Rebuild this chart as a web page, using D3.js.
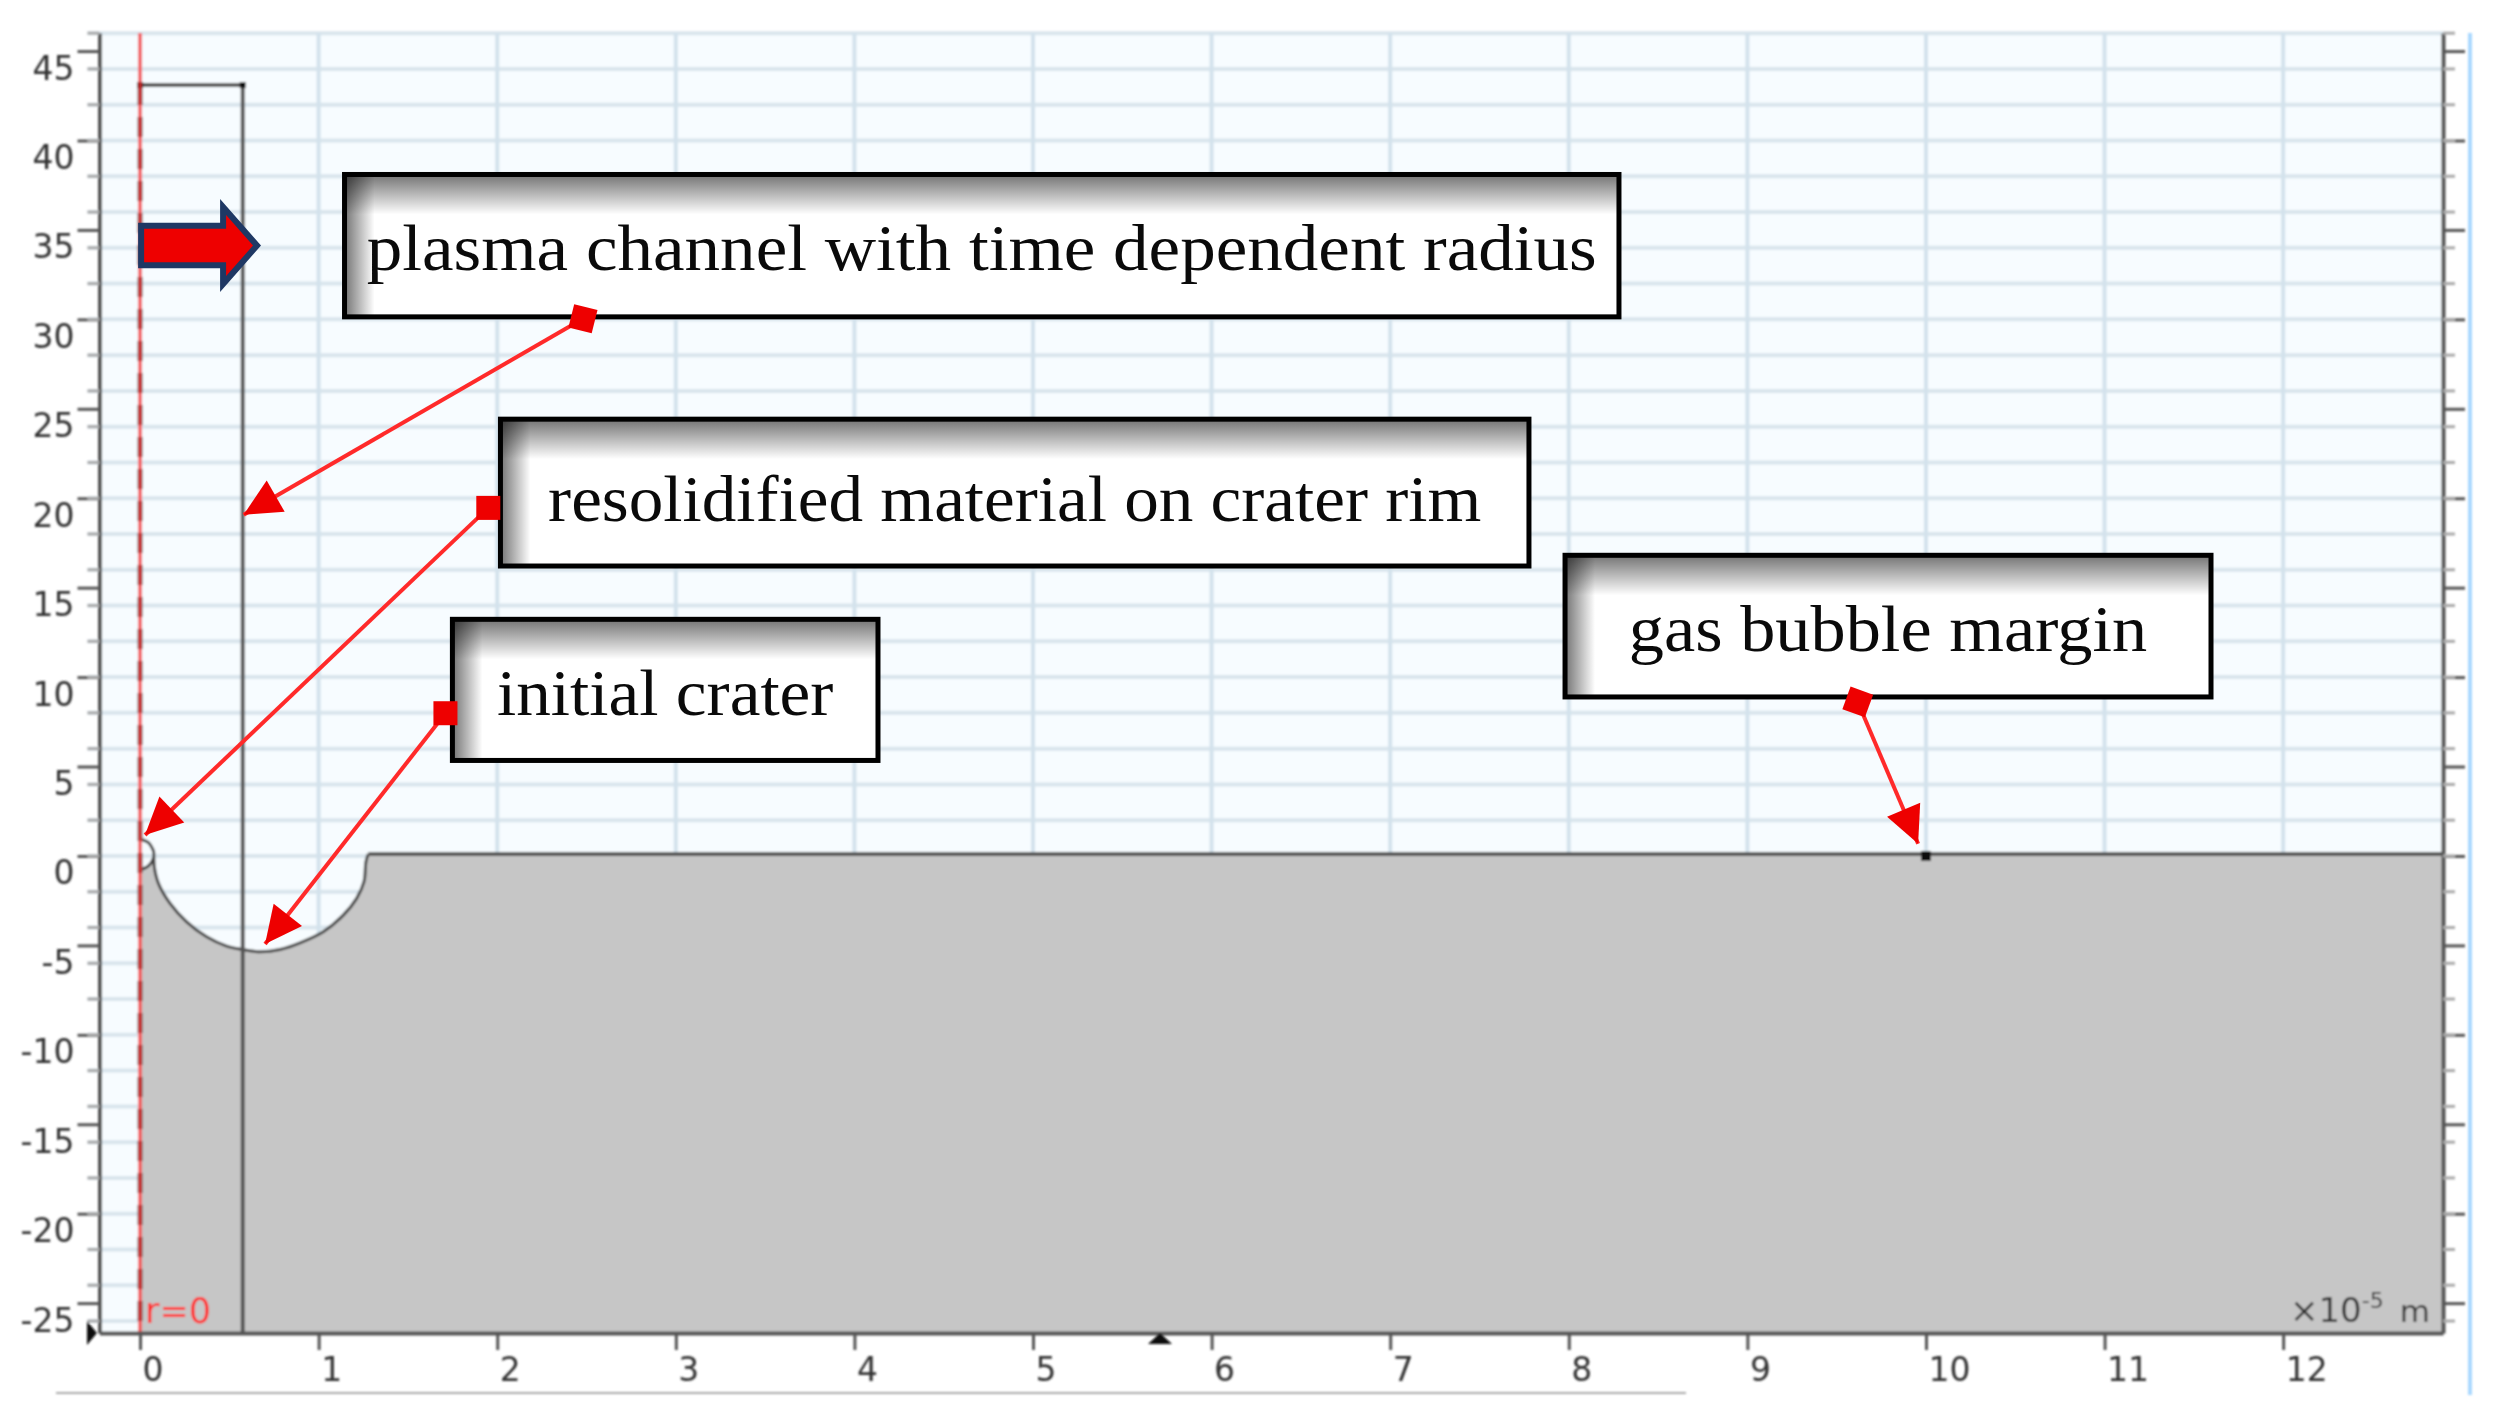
<!DOCTYPE html>
<meta charset="utf-8">
<style>
body { margin: 0; background: #fff; }
svg { display: block; }
.tick text { font-family: "DejaVu Sans"; font-size: 33px; fill: #333; }
.note { font-family: "Liberation Serif"; font-size: 66px; fill: #0a0a0a; text-anchor: middle; }
</style>
<body>
<script src="https://cdn.jsdelivr.net/npm/d3@7"></script>
<script>

var w = 2501,
    h = 1416;

// x in 1e-5 m, y in 1e-6 m
var xTicks = [0, 1, 2, 3, 4, 5, 6, 7, 8, 9, 10, 11, 12],
    yLabelled = [45, 40, 35, 30, 25, 20, 15, 10, 5, 0, -5, -10, -15, -20, -25],
    yGrid = d3.range(-26, 47, 2);

// crater profile
var crater = [[0, -0.79], [0.047, -0.56], [0.075, -0.13], [0.077, 0.24], [0.08, -0.6], [0.103, -1.53], [0.168, -2.65],
  [0.261, -3.68], [0.373, -4.52], [0.485, -5.04], [0.573, -5.23], [0.672, -5.36], [0.784, -5.23],
  [0.896, -4.86], [1.026, -4.24], [1.138, -3.31], [1.213, -2.37], [1.254, -1.44], [1.265, -0.32],
  [1.278, 0.11]];
var surface = [[1.278, 0.11], [12.895, 0.11]];
var rim = [[0, 0.93], [0.047, 0.74], [0.077, 0.24]];
var channelRadius = 0.575,
    channelTop = 43.1;
var bubbleMargin = [10, 0];

var noteTexts = ["plasma channel with time dependent radius", "resolidified material on crater rim", "initial crater", "gas bubble margin"],
    noteX0 = [1.145, 2.018, 1.749, 7.979],
    noteX1 = [8.281, 7.777, 4.132, 11.596],
    noteTop = [38.10, 24.42, 13.23, 16.81],
    noteBottom = [30.14, 16.21, 5.34, 8.89],
    noteBaseline = [32.76, 18.73, 7.88, 11.44],
    noteWidth = [6.887, 5.225, 1.884, 2.902];

var arrowFrom = [[2.48, 30.03], [1.95, 19.46], [1.71, 7.98], [9.618, 8.61]],
    arrowTo = [[0.58, 19.08], [0.028, 1.17], [0.70, -4.92], [9.956, 0.68]],
    arrowTilt = [14, 0, 0, 20];

var pushArrow = [[0.006, 35.23], [0.465, 35.23], [0.465, 36.28], [0.655, 34.13], [0.465, 31.98], [0.465, 33.03], [0.006, 33.03]];

var x = d3.scaleLinear().domain([-0.227, 12.895]).range([99.5, 2443]),
    y = d3.scaleLinear().domain([-26.67, 46.01]).range([1333, 33]);

var svg = d3.select("body").append("svg")
    .attr("width", w)
    .attr("height", h);

var defs = svg.append("defs");
defs.append("filter").attr("id", "soft").append("feGaussianBlur").attr("stdDeviation", 0.8);
var gt = defs.append("linearGradient").attr("id", "shadeTop").attr("x1", 0).attr("y1", 0).attr("x2", 0).attr("y2", 1);
gt.append("stop").attr("offset", 0).attr("stop-color", "#000").attr("stop-opacity", 0.55);
gt.append("stop").attr("offset", 1).attr("stop-color", "#000").attr("stop-opacity", 0);
var gl = defs.append("linearGradient").attr("id", "shadeLeft").attr("x1", 0).attr("y1", 0).attr("x2", 1).attr("y2", 0);
gl.append("stop").attr("offset", 0).attr("stop-color", "#000").attr("stop-opacity", 0.55);
gl.append("stop").attr("offset", 1).attr("stop-color", "#000").attr("stop-opacity", 0);

var plot = svg.append("g").attr("filter", "url(#soft)");

// background and grid
plot.append("rect")
    .attr("x", x.range()[0]).attr("y", y.range()[1])
    .attr("width", x.range()[1] - x.range()[0]).attr("height", y.range()[0] - y.range()[1])
    .attr("fill", "#f7fcff");

plot.selectAll(".gy").data(yGrid).enter().append("line")
    .attr("x1", x.range()[0] - 12).attr("x2", x.range()[1])
    .attr("y1", y).attr("y2", y)
    .attr("stroke", "#d9e5ed").attr("stroke-width", 4);

plot.selectAll(".gx").data(xTicks).enter().append("line")
    .attr("x1", x).attr("x2", x)
    .attr("y1", y.range()[0]).attr("y2", y.range()[1])
    .attr("stroke", "#d3e2ec").attr("stroke-width", 4);

// solid, everything below the crater profile
var line = d3.line().x(function(d) { return x(d[0]); }).y(function(d) { return y(d[1]); });
var curved = d3.line().x(function(d) { return x(d[0]); }).y(function(d) { return y(d[1]); }).curve(d3.curveCatmullRom.alpha(0.5));
var area = d3.area().x(function(d) { return x(d[0]); }).y0(y.range()[0]).y1(function(d) { return y(d[1]); });

plot.append("path").datum(crater.concat(surface)).attr("d", area).attr("fill", "#c6c6c6");
plot.append("path").datum(crater).attr("d", curved).attr("fill", "none").attr("stroke", "#444").attr("stroke-width", 3);
plot.append("path").datum(rim).attr("d", curved).attr("fill", "none").attr("stroke", "#444").attr("stroke-width", 3);
plot.append("path").datum(surface).attr("d", line).attr("fill", "none").attr("stroke", "#555").attr("stroke-width", 4);

// plasma channel
plot.append("path")
    .datum([[0, channelTop], [channelRadius, channelTop], [channelRadius, y.domain()[0]]])
    .attr("d", line).attr("fill", "none").attr("stroke", "#555").attr("stroke-width", 4);
plot.append("line")
    .attr("x1", x(0)).attr("x2", x(0)).attr("y1", y(channelTop)).attr("y2", y.range()[0])
    .attr("stroke", "#444").attr("stroke-width", 5).attr("stroke-dasharray", "20 12");
plot.selectAll(".corner").data([[0, channelTop], [channelRadius, channelTop], bubbleMargin]).enter().append("rect")
    .attr("x", function(d, i) { return x(d[0]) - (i == 2 ? 5 : 3); })
    .attr("y", function(d, i) { return y(d[1]) - (i == 2 ? 5 : 3); })
    .attr("width", function(d, i) { return i == 2 ? 10 : 6; })
    .attr("height", function(d, i) { return i == 2 ? 10 : 6; })
    .attr("fill", "#111");

// axis r=0
plot.append("line")
    .attr("x1", x(0)).attr("x2", x(0)).attr("y1", y.range()[1]).attr("y2", y.range()[0])
    .attr("stroke", "#ff3030").attr("stroke-opacity", 0.7).attr("stroke-width", 4);

// axes
function styleAxis(g) {
  g.selectAll(".domain").attr("stroke", "#555").attr("stroke-width", 4);
  g.selectAll(".tick line").attr("stroke", "#555").attr("stroke-width", 3);
}

var bottom = plot.append("g")
    .attr("transform", "translate(0," + y.range()[0] + ")")
    .call(d3.axisBottom(x).tickValues(xTicks).tickSize(17).tickSizeOuter(0))
    .call(styleAxis);
bottom.selectAll(".tick text").attr("text-anchor", "start").attr("x", 2).attr("y", 0).attr("dy", 48);

var left = plot.append("g")
    .attr("transform", "translate(" + x.range()[0] + ",0)")
    .call(d3.axisLeft(y).tickValues(yLabelled).tickSize(22).tickSizeOuter(0).tickFormat(function(d) { return String(d); }))
    .call(styleAxis);
left.selectAll(".tick text").attr("x", -25).attr("y", 0).attr("dy", 28);
left.selectAll(".minor").data(yGrid).enter().append("line")
    .attr("x1", -12).attr("x2", 0).attr("y1", y).attr("y2", y)
    .attr("stroke", "#aaa").attr("stroke-width", 3);

var right = plot.append("g")
    .attr("transform", "translate(" + x.range()[1] + ",0)")
    .call(d3.axisRight(y).tickValues(yLabelled).tickSize(22).tickSizeOuter(0).tickFormat(""))
    .call(styleAxis);
right.selectAll(".minor").data(yGrid).enter().append("line")
    .attr("x1", 0).attr("x2", 12).attr("y1", y).attr("y2", y)
    .attr("stroke", "#aaa").attr("stroke-width", 3);

// window edge and rule under the plot
plot.append("line").attr("x1", 2470).attr("x2", 2470).attr("y1", y.range()[1]).attr("y2", 1395)
    .attr("stroke", "#a9d8ff").attr("stroke-width", 4);
plot.append("line").attr("x1", 56).attr("x2", 1686).attr("y1", 1393).attr("y2", 1393)
    .attr("stroke", "#aaa").attr("stroke-width", 2);

// small view markers on the axes
plot.append("path").attr("d", "M87,1321L97,1333L87,1345Z").attr("fill", "#111");
plot.append("path").attr("d", "M1148,1344L1160,1333L1172,1344Z").attr("fill", "#111");

plot.append("text").attr("x", 145).attr("y", 1323)
    .attr("font-family", "DejaVu Sans").attr("font-size", 35).attr("fill", "#ff2a2a").text("r=0");

var unit = plot.append("text").attr("x", 2290).attr("y", 1322)
    .attr("font-family", "DejaVu Sans").attr("font-size", 34).attr("fill", "#333");
unit.append("tspan").text("\u00d710");
unit.append("tspan").attr("dy", -14).attr("font-size", 22).text("-5");
unit.append("tspan").attr("dy", 14).attr("dx", 16).attr("font-size", 31).text("m");

// block arrow on the channel
svg.append("path").datum(pushArrow)
    .attr("d", function(d) { return line(d) + "Z"; })
    .attr("fill", "#ee0000").attr("stroke", "#1f3864").attr("stroke-width", 6);

// note boxes
var notes = svg.selectAll(".box").data(noteTexts).enter().append("g").attr("class", "box");
notes.append("rect")
    .attr("x", function(d, i) { return x(noteX0[i]); })
    .attr("y", function(d, i) { return y(noteTop[i]); })
    .attr("width", function(d, i) { return x(noteX1[i]) - x(noteX0[i]); })
    .attr("height", function(d, i) { return y(noteBottom[i]) - y(noteTop[i]); })
    .attr("fill", "#fff");
notes.append("rect")
    .attr("x", function(d, i) { return x(noteX0[i]); })
    .attr("y", function(d, i) { return y(noteTop[i]); })
    .attr("width", 30)
    .attr("height", function(d, i) { return y(noteBottom[i]) - y(noteTop[i]); })
    .attr("fill", "url(#shadeLeft)");
notes.append("rect")
    .attr("x", function(d, i) { return x(noteX0[i]); })
    .attr("y", function(d, i) { return y(noteTop[i]); })
    .attr("width", function(d, i) { return x(noteX1[i]) - x(noteX0[i]); })
    .attr("height", 40)
    .attr("fill", "url(#shadeTop)");
notes.append("rect")
    .attr("x", function(d, i) { return x(noteX0[i]); })
    .attr("y", function(d, i) { return y(noteTop[i]); })
    .attr("width", function(d, i) { return x(noteX1[i]) - x(noteX0[i]); })
    .attr("height", function(d, i) { return y(noteBottom[i]) - y(noteTop[i]); })
    .attr("fill", "none").attr("stroke", "#000").attr("stroke-width", 5);
notes.append("text")
    .attr("class", "note")
    .attr("x", function(d, i) { return (x(noteX0[i]) + x(noteX1[i])) / 2; })
    .attr("y", function(d, i) { return y(noteBaseline[i]); })
    .attr("textLength", function(d, i) { return x(noteWidth[i]) - x(0); })
    .attr("lengthAdjust", "spacingAndGlyphs")
    .text(function(d) { return d; });

// red arrows
arrowFrom.forEach(function(a, i) {
  var x0 = x(a[0]), y0 = y(a[1]), x1 = x(arrowTo[i][0]), y1 = y(arrowTo[i][1]);
  var ang = Math.atan2(y1 - y0, x1 - x0) * 180 / Math.PI;
  svg.append("line").attr("x1", x0).attr("y1", y0).attr("x2", x1).attr("y2", y1)
      .attr("stroke", "#ff2a2a").attr("stroke-width", 4);
  svg.append("rect").attr("x", -12).attr("y", -12).attr("width", 24).attr("height", 24)
      .attr("fill", "#ee0000")
      .attr("transform", "translate(" + x0 + "," + y0 + ") rotate(" + arrowTilt[i] + ")");
  svg.append("path").attr("d", "M0,0L-37,-18L-37,18Z")
      .attr("fill", "#ee0000")
      .attr("transform", "translate(" + x1 + "," + y1 + ") rotate(" + ang + ")");
});

</script>
